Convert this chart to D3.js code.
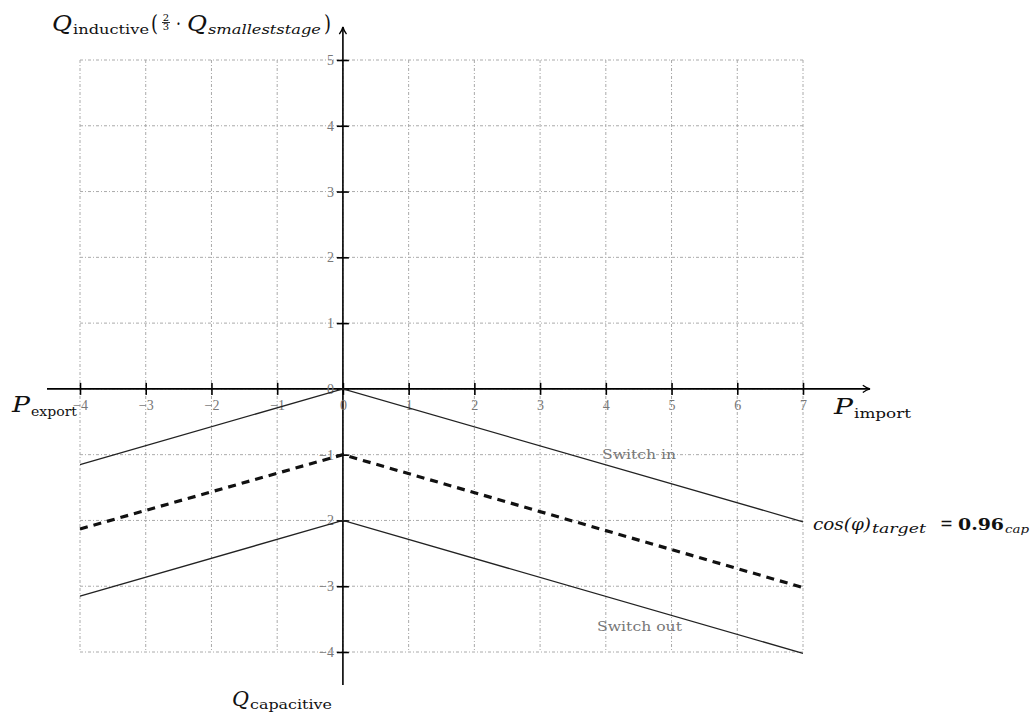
<!DOCTYPE html>
<html>
<head>
<meta charset="utf-8">
<script src="https://cdn.jsdelivr.net/npm/d3@7"></script>
<style>
  body { margin: 0; background: #fff; }
  svg text { font-family: "Liberation Serif", "DejaVu Serif", serif; }
  svg .math text, svg .note { font-family: "DejaVu Serif", serif; }
</style>
</head>
<body>
<svg id="chart" width="1032" height="715"></svg>
<script>
// data
var xTicks = [-4, -3, -2, -1, 0, 1, 2, 3, 4, 5, 6, 7];
var yTicks = [-4, -3, -2, -1, 0, 1, 2, 3, 4, 5];
var pPoints = [-4, 0, 7];
var qSwitchIn = [-1.15, 0, -2.02];
var qTarget = [-2.13, -1, -3.02];
var qSwitchOut = [-3.15, -2, -4.02];

var svg = d3.select("#chart");

var x = d3.scaleLinear().domain([-4, 7]).range([80, 803]);
var y = d3.scaleLinear().domain([-4, 5]).range([652, 60]);

// grid
var grid = svg.append("g").attr("class", "grid")
  .attr("stroke", "#aaa").attr("stroke-width", 1)
  .attr("stroke-dasharray", "3,2,1,2");

grid.selectAll(".gv").data(xTicks).enter().append("line")
  .attr("x1", function(d) { return x(d); })
  .attr("x2", function(d) { return x(d); })
  .attr("y1", y(5)).attr("y2", y(-4));

grid.selectAll(".gh").data(yTicks).enter().append("line")
  .attr("y1", function(d) { return y(d); })
  .attr("y2", function(d) { return y(d); })
  .attr("x1", x(-4)).attr("x2", x(7));

// arrow marker
svg.append("defs").append("marker")
  .attr("id", "arrow")
  .attr("viewBox", "0 -5 10 10")
  .attr("refX", 9).attr("refY", 0)
  .attr("markerWidth", 9).attr("markerHeight", 9)
  .attr("markerUnits", "userSpaceOnUse")
  .attr("orient", "auto")
  .append("path")
  .attr("d", "M1,-4 Q5,-1 9,0 Q5,1 1,4")
  .attr("fill", "none").attr("stroke", "#000").attr("stroke-width", 1.5);

// axes lines
svg.append("line")
  .attr("x1", 47).attr("x2", 870)
  .attr("y1", y(0)).attr("y2", y(0))
  .attr("stroke", "#000").attr("stroke-width", 1.6)
  .attr("marker-end", "url(#arrow)");

svg.append("line")
  .attr("x1", x(0)).attr("x2", x(0))
  .attr("y1", 685).attr("y2", 27)
  .attr("stroke", "#000").attr("stroke-width", 1.6)
  .attr("marker-end", "url(#arrow)");

// x axis ticks
var xAxis = d3.axisBottom(x).tickValues(xTicks).tickSize(6).tickSizeOuter(0);
var gx = svg.append("g")
  .attr("transform", "translate(0," + y(0) + ")")
  .call(xAxis);
gx.select(".domain").remove();
gx.selectAll(".tick line").attr("y1", -6).attr("stroke-width", 1.6);
gx.selectAll(".tick text")
  .attr("y", 11)
  .attr("fill", "#777")
  .style("font-size", "14px")
  .style("font-family", "'Liberation Serif', serif");

// y axis ticks
var yAxis = d3.axisLeft(y).tickValues(yTicks).tickSize(6).tickSizeOuter(0);
var gy = svg.append("g")
  .attr("transform", "translate(" + x(0) + ",0)")
  .call(yAxis);
gy.select(".domain").remove();
gy.selectAll(".tick line").attr("x1", 6).attr("stroke-width", 1.6);
gy.selectAll(".tick text")
  .attr("x", -9)
  .attr("fill", "#777")
  .style("font-size", "14px")
  .style("font-family", "'Liberation Serif', serif");

// curves
var line = d3.line()
  .x(function(d) { return x(d[0]); })
  .y(function(d) { return y(d[1]); });

function pairs(qs) { return pPoints.map(function(p, i) { return [p, qs[i]]; }); }

svg.append("path").datum(pairs(qSwitchIn))
  .attr("d", line).attr("fill", "none")
  .attr("stroke", "#222").attr("stroke-width", 1.3);

svg.append("path").datum(pairs(qTarget))
  .attr("d", line).attr("fill", "none")
  .attr("stroke", "#111").attr("stroke-width", 3.2)
  .attr("stroke-dasharray", "8,6");

svg.append("path").datum(pairs(qSwitchOut))
  .attr("d", line).attr("fill", "none")
  .attr("stroke", "#222").attr("stroke-width", 1.3);

// math-like labels built from pieces, each fitted to the width seen in the picture
function mathText(x0, y0, parts) {
  var g = svg.append("g").attr("class", "math");
  var cx = x0;
  parts.forEach(function(p) {
    if (p.frac) {
      g.append("text").attr("x", cx + p.w / 2).attr("y", y0 - 10)
        .attr("text-anchor", "middle").attr("font-size", p.size).text(p.frac[0]);
      g.append("text").attr("x", cx + p.w / 2).attr("y", y0 - 1)
        .attr("text-anchor", "middle").attr("font-size", p.size).text(p.frac[1]);
      g.append("line").attr("x1", cx).attr("x2", cx + p.w)
        .attr("y1", y0 - 8.5).attr("y2", y0 - 8.5)
        .attr("stroke", "#000").attr("stroke-width", 0.8);
    } else {
      var t = g.append("text").attr("x", cx).attr("y", y0 + (p.dy || 0))
        .attr("font-size", p.size)
        .attr("font-style", p.italic ? "italic" : null)
        .attr("font-weight", p.bold ? "bold" : null)
        .attr("fill", "#111")
        .text(p.text);
      if (p.w) t.attr("textLength", p.w).attr("lengthAdjust", "spacingAndGlyphs");
    }
    cx += (p.w || 0) + (p.gap || 0);
  });
  return g;
}

mathText(52, 31, [
  {text: "Q", size: 22, italic: true, w: 20, gap: 1},
  {text: "inductive", size: 13, dy: 3, w: 76, gap: 2},
  {text: "(", size: 22, w: 7, gap: 4},
  {frac: ["2", "3"], size: 10, w: 8, gap: 6},
  {text: "·", size: 20, w: 5, gap: 6},
  {text: "Q", size: 22, italic: true, w: 20, gap: 1},
  {text: "smalleststage", size: 13, italic: true, dy: 3, w: 113, gap: 3},
  {text: ")", size: 22, w: 7}
]);

mathText(12, 412, [
  {text: "P", size: 22, italic: true, w: 18, gap: 1},
  {text: "export", size: 13, dy: 4, w: 46}
]);

mathText(834, 414, [
  {text: "P", size: 22, italic: true, w: 19, gap: 1},
  {text: "import", size: 13, dy: 4, w: 57}
]);

mathText(232, 706, [
  {text: "Q", size: 20, italic: true, w: 17, gap: 1},
  {text: "capacitive", size: 12, dy: 3, w: 82}
]);

mathText(813, 530, [
  {text: "cos(φ)", size: 17, italic: true, w: 58, gap: 1},
  {text: "target", size: 12, italic: true, dy: 3, w: 54, gap: 14},
  {text: "=", size: 18, w: 13, gap: 5},
  {text: "0.96", size: 17, bold: true, w: 46, gap: 1},
  {text: "cap", size: 11, italic: true, dy: 3, w: 24}
]);

// annotations
svg.append("text").attr("class", "note").attr("x", 602).attr("y", 459)
  .attr("font-size", 12).attr("fill", "#777")
  .attr("textLength", 74).attr("lengthAdjust", "spacingAndGlyphs")
  .text("Switch in");

svg.append("text").attr("class", "note").attr("x", 597).attr("y", 631)
  .attr("font-size", 12).attr("fill", "#777")
  .attr("textLength", 85).attr("lengthAdjust", "spacingAndGlyphs")
  .text("Switch out");
</script>
</body>
</html>
